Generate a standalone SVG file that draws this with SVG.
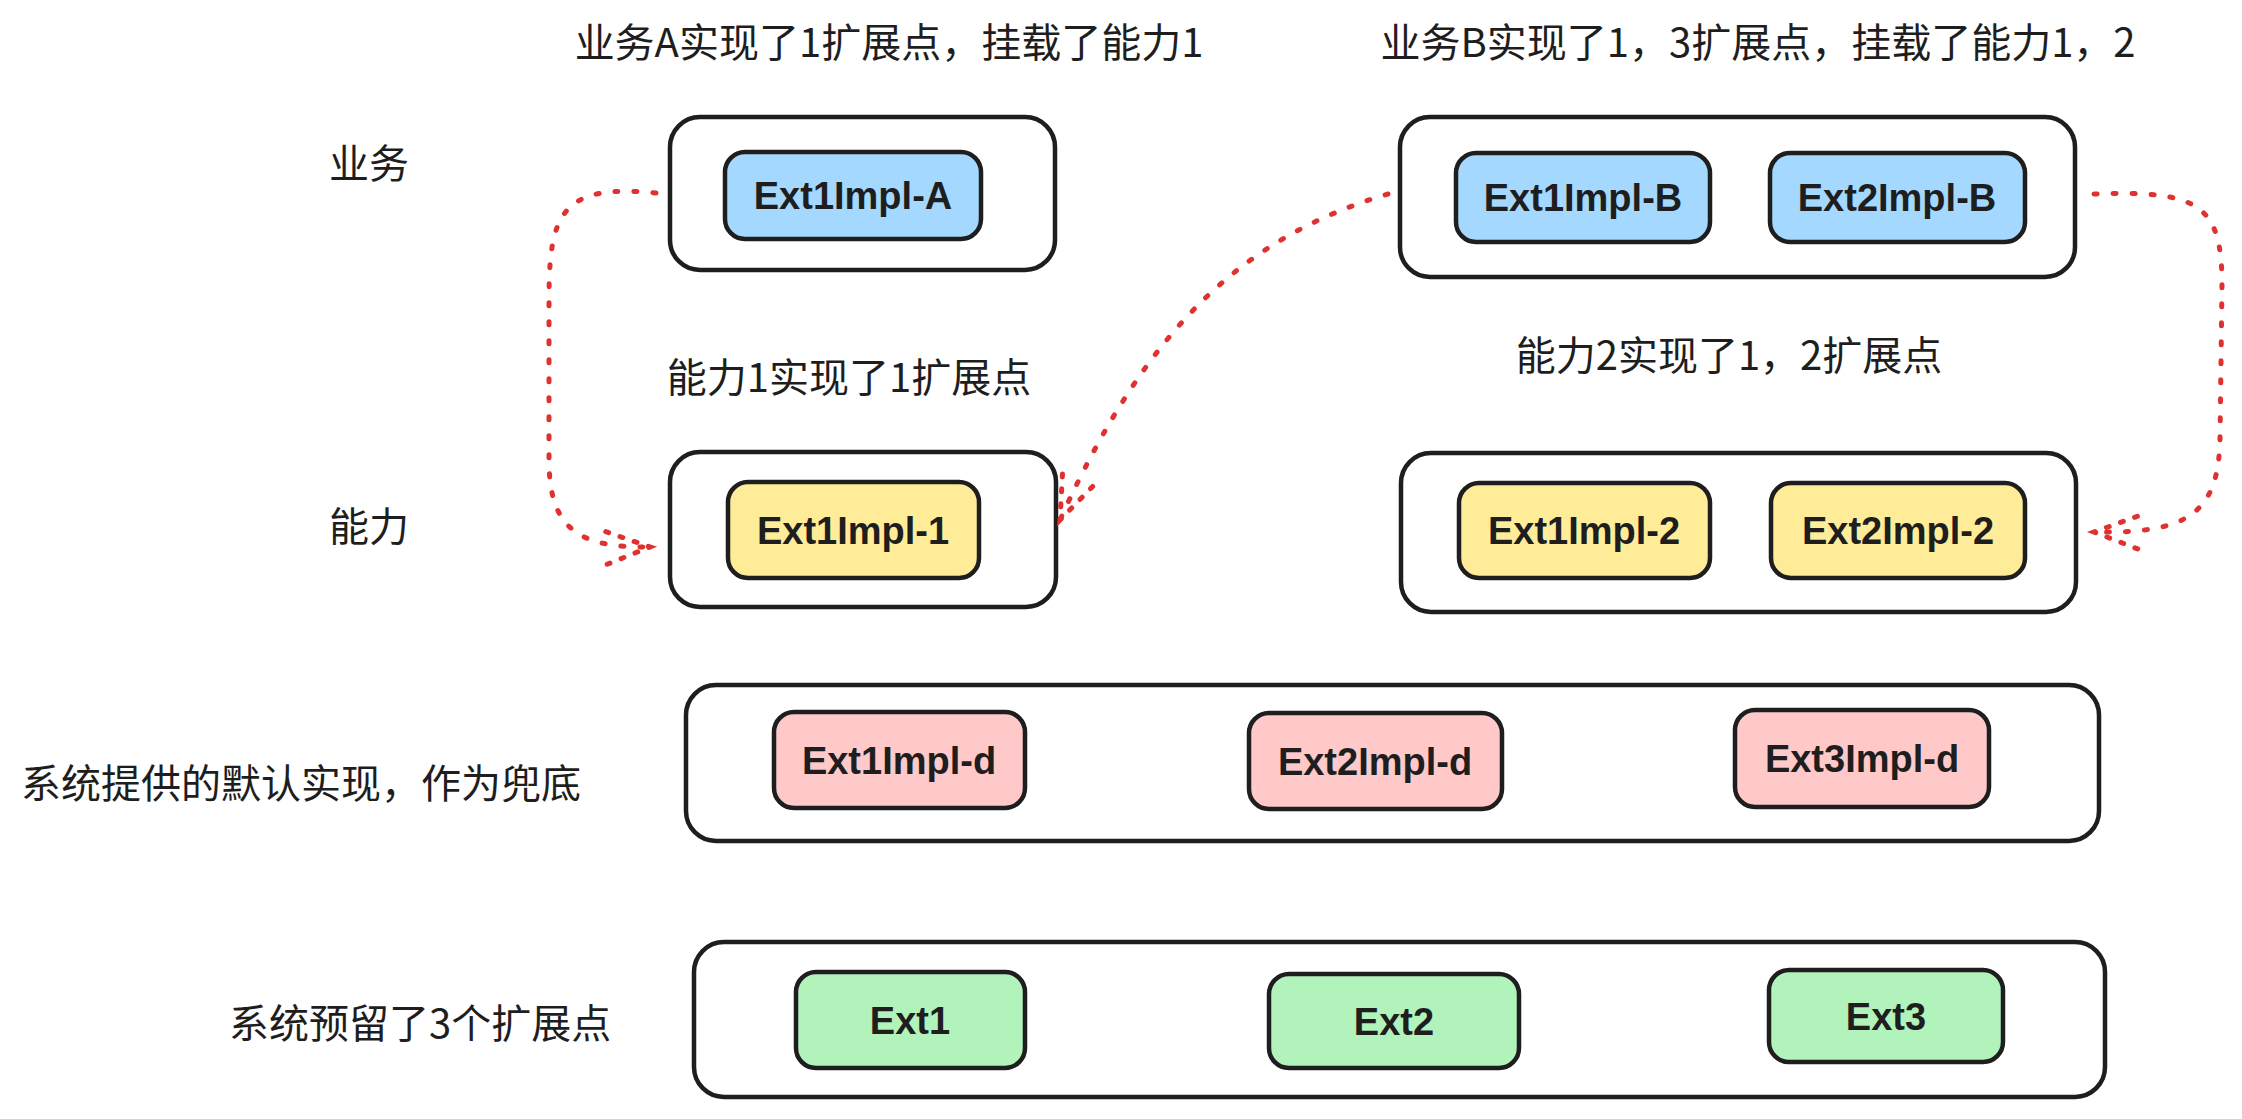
<svg xmlns="http://www.w3.org/2000/svg" width="2242" height="1119" viewBox="0 0 2242 1119">
<style>
.bg{fill:#ffffff}
.outer{fill:#ffffff;stroke:#1e1e1e;stroke-width:4.5}
.inner{stroke:#1e1e1e;stroke-width:4.5}
.blue{fill:#a5d8ff}.yellow{fill:#ffec99}.red{fill:#ffc9c9}.green{fill:#b2f2bb}
.cjk{font-family:"Noto Sans CJK SC","Noto Sans",sans-serif;font-size:40px;fill:#1e1e1e}
.lbl{font-family:"Liberation Sans",Arial,sans-serif;font-size:38px;font-weight:bold;fill:#1e1e1e;text-anchor:middle}
.conn{fill:none;stroke:#e03131;stroke-width:5;stroke-linecap:round;stroke-dasharray:3 16}
</style>
<defs>
<marker id="arr" viewBox="0 0 60 60" refX="50" refY="30" markerWidth="60" markerHeight="60" markerUnits="userSpaceOnUse" orient="auto">
<path d="M 6 14 L 50 30 L 6 47" fill="none" stroke="#e03131" stroke-width="5" stroke-linecap="round" stroke-dasharray="3 12"/>
</marker>
</defs>
<rect class="bg" x="0" y="0" width="2242" height="1119"/>

<g id="labels">
<text class="cjk" x="889" y="57" text-anchor="middle">业务A实现了1扩展点，挂载了能力1</text>
<text class="cjk" x="1758" y="57" text-anchor="middle">业务B实现了1，3扩展点，挂载了能力1，2</text>
<text class="cjk" x="849" y="392" text-anchor="middle">能力1实现了1扩展点</text>
<text class="cjk" x="1729" y="370" text-anchor="middle">能力2实现了1，2扩展点</text>
<text class="cjk" x="369" y="178" text-anchor="middle">业务</text>
<text class="cjk" x="369" y="541" text-anchor="middle">能力</text>
<text class="cjk" x="21" y="798">系统提供的默认实现，作为兜底</text>
<text class="cjk" x="229" y="1038">系统预留了3个扩展点</text>
</g>

<g id="business-A">
<rect class="outer" x="670" y="117" width="385" height="153" rx="30"/>
<g id="Ext1Impl-A"><rect class="inner blue" x="725" y="152" width="256" height="87" rx="20"/><text class="lbl" x="853" y="209">Ext1Impl-A</text></g>
</g>

<g id="business-B">
<rect class="outer" x="1400" y="117" width="675" height="160" rx="30"/>
<g id="Ext1Impl-B"><rect class="inner blue" x="1456" y="153" width="254" height="89" rx="20"/><text class="lbl" x="1583" y="211">Ext1Impl-B</text></g>
<g id="Ext2Impl-B"><rect class="inner blue" x="1770" y="153" width="255" height="89" rx="20"/><text class="lbl" x="1897" y="211">Ext2Impl-B</text></g>
</g>

<g id="ability-1">
<rect class="outer" x="670" y="452" width="386" height="155" rx="30"/>
<g id="Ext1Impl-1"><rect class="inner yellow" x="728" y="482" width="251" height="96" rx="20"/><text class="lbl" x="853" y="544">Ext1Impl-1</text></g>
</g>

<g id="ability-2">
<rect class="outer" x="1401" y="453" width="675" height="159" rx="30"/>
<g id="Ext1Impl-2"><rect class="inner yellow" x="1459" y="483" width="251" height="95" rx="20"/><text class="lbl" x="1584" y="544">Ext1Impl-2</text></g>
<g id="Ext2Impl-2"><rect class="inner yellow" x="1771" y="483" width="254" height="95" rx="20"/><text class="lbl" x="1898" y="544">Ext2Impl-2</text></g>
</g>

<g id="defaults">
<rect class="outer" x="686" y="685" width="1413" height="156" rx="30"/>
<g id="Ext1Impl-d"><rect class="inner red" x="774" y="712" width="251" height="96" rx="20"/><text class="lbl" x="899" y="774">Ext1Impl-d</text></g>
<g id="Ext2Impl-d"><rect class="inner red" x="1249" y="713" width="253" height="96" rx="20"/><text class="lbl" x="1375" y="775">Ext2Impl-d</text></g>
<g id="Ext3Impl-d"><rect class="inner red" x="1735" y="710" width="254" height="97" rx="20"/><text class="lbl" x="1862" y="772">Ext3Impl-d</text></g>
</g>

<g id="extension-points">
<rect class="outer" x="694" y="942" width="1411" height="155" rx="30"/>
<g id="Ext1"><rect class="inner green" x="796" y="972" width="229" height="96" rx="20"/><text class="lbl" x="910" y="1034">Ext1</text></g>
<g id="Ext2"><rect class="inner green" x="1269" y="974" width="250" height="94" rx="20"/><text class="lbl" x="1394" y="1035">Ext2</text></g>
<g id="Ext3"><rect class="inner green" x="1769" y="970" width="234" height="92" rx="20"/><text class="lbl" x="1886" y="1030">Ext3</text></g>
</g>

<g id="connectors">
<path class="conn" marker-end="url(#arr)" d="M 656 193 C 560 183, 549 215, 549 300 L 549 460 C 549 530, 580 548, 650 547"/>
<path class="conn" marker-end="url(#arr)" d="M 1388 194 C 1250 235, 1150 320, 1060 520"/>
<path class="conn" marker-end="url(#arr)" d="M 2094 194 C 2200 190, 2222 205, 2222 285 L 2220 440 C 2218 512, 2190 534, 2094 532"/>
</g>
</svg>
